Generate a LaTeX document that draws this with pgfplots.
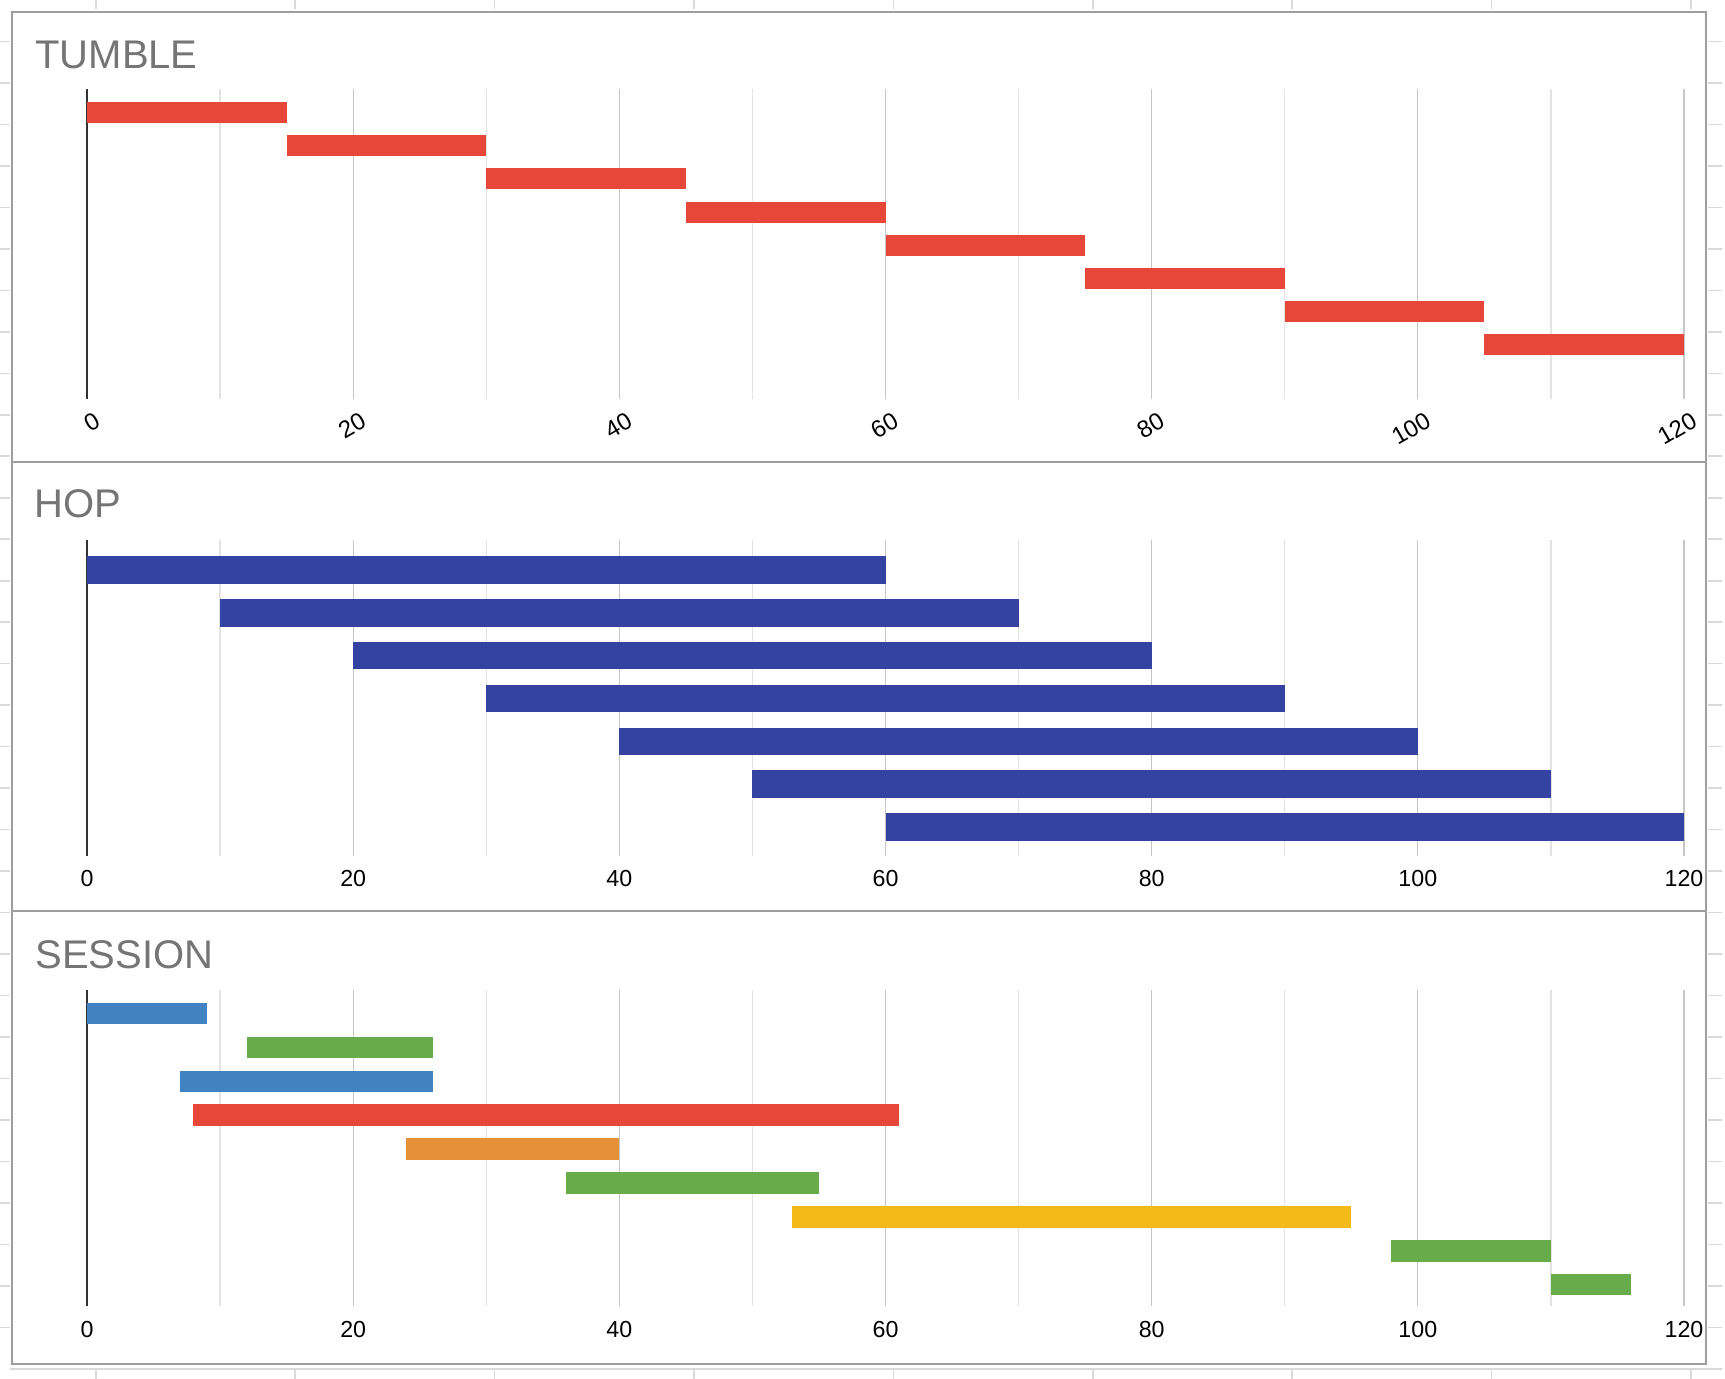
\documentclass[border=0pt]{standalone}
\usepackage{pgfplots}
\pgfplotsset{compat=1.18}
\usepackage{fontspec}
\setmainfont{Liberation Sans}
\definecolor{tred}{HTML}{E64738}
\definecolor{hblue}{HTML}{3443A1}
\definecolor{sblue}{HTML}{4182C3}
\definecolor{sgreen}{HTML}{68AB4A}
\definecolor{sorange}{HTML}{E69138}
\definecolor{syellow}{HTML}{F4BB18}
\definecolor{ttl}{HTML}{757575}
\definecolor{framec}{HTML}{9E9E9E}
\definecolor{cell}{HTML}{DADADA}

\pgfplotsset{
  gantt/.style={
    scale only axis,
    width=798.5pt,
    xmin=0, xmax=120,
    xtick={0,20,...,120},
    minor xtick={10,30,...,110},
    ytick=\empty,
    xmajorgrids, xminorgrids,
    major grid style={draw=black!22, line width=0.6pt},
    minor grid style={draw=black!11, line width=0.6pt},
    major tick length=0pt, minor tick length=0pt,
    axis lines*=left,
    axis line style={-},
    x axis line style={draw=none},
    y axis line style={draw=black!80, line width=1pt},
    /pgf/number format/assume math mode=true,
    xticklabel style={font=\fontsize{11.6}{13}\selectfont, inner sep=0pt},
    clip=false,
    anchor=north west,
  },
}

\begin{document}
\begin{tikzpicture}
\path[use as bounding box] (0,0) rectangle (862.5pt,-689.5pt);
\begin{scope}[x=0.5pt,y=-0.5pt]
  % spreadsheet cell borders outside the chart
  \foreach \k in {1,...,32} {
    \draw[cell, line width=0.8pt] (0,{41.48*\k}) -- (10,{41.48*\k});
    \draw[cell, line width=0.8pt] (1708,{41.48*\k}) -- (1722,{41.48*\k});
  }
  \foreach \k in {0,...,8} {
    \draw[cell, line width=0.8pt] ({95.7+199.4*\k},0) -- ({95.7+199.4*\k},9);
    \draw[cell, line width=0.8pt] ({95.7+199.4*\k},1369) -- ({95.7+199.4*\k},1379);
  }
  \draw[cell, line width=0.8pt] (10,1369) -- (1722,1369);
  % chart frame and dividers
  \draw[framec, line width=1pt] (12,12) rectangle (1706,1364);
  \draw[framec, line width=1pt] (12,462) -- (1706,462);
  \draw[framec, line width=1pt] (12,911) -- (1706,911);
  % titles
  \node[anchor=base west, inner sep=0pt, text=ttl, font=\fontsize{20}{24}\selectfont] at (35,68.3) {TUMBLE};
  \node[anchor=base west, inner sep=0pt, text=ttl, font=\fontsize{20}{24}\selectfont] at (34,517.7) {HOP};
  \node[anchor=base west, inner sep=0pt, text=ttl, font=\fontsize{20}{24}\selectfont] at (35,968.3) {SESSION};
\end{scope}

% TUMBLE
\begin{axis}[gantt, at={(43.5pt,-44.65pt)}, height=155pt, ymin=-9.66, ymax=-0.29,
  xticklabel style={xshift=5.4pt, yshift=-9.6pt, rotate=30, anchor=east, font=\fontsize{12}{13}\selectfont}]
  \addplot[tred, line width=10.5pt] coordinates {(0,-1) (15,-1)};
  \addplot[tred, line width=10.5pt] coordinates {(15,-2) (30,-2)};
  \addplot[tred, line width=10.5pt] coordinates {(30,-3) (45,-3)};
  \addplot[tred, line width=10.5pt] coordinates {(45,-4) (60,-4)};
  \addplot[tred, line width=10.5pt] coordinates {(60,-5) (75,-5)};
  \addplot[tred, line width=10.5pt] coordinates {(75,-6) (90,-6)};
  \addplot[tred, line width=10.5pt] coordinates {(90,-7) (105,-7)};
  \addplot[tred, line width=10.5pt] coordinates {(105,-8) (120,-8)};
\end{axis}

% HOP
\begin{axis}[gantt, at={(43.5pt,-270pt)}, height=158pt, ymin=-7.67, ymax=-0.305,
  xticklabel style={anchor=center, yshift=-11.15pt}]
  \addplot[hblue, line width=13.85pt] coordinates {(0,-1) (60,-1)};
  \addplot[hblue, line width=13.85pt] coordinates {(10,-2) (70,-2)};
  \addplot[hblue, line width=13.85pt] coordinates {(20,-3) (80,-3)};
  \addplot[hblue, line width=13.85pt] coordinates {(30,-4) (90,-4)};
  \addplot[hblue, line width=13.85pt] coordinates {(40,-5) (100,-5)};
  \addplot[hblue, line width=13.85pt] coordinates {(50,-6) (110,-6)};
  \addplot[hblue, line width=13.85pt] coordinates {(60,-7) (120,-7)};
\end{axis}

% SESSION
\begin{axis}[gantt, at={(43.5pt,-495pt)}, height=158pt, ymin=-9.625, ymax=-0.313,
  xticklabel style={anchor=center, yshift=-11.6pt}]
  \addplot[sblue,   line width=10.65pt] coordinates {(0,-1) (9,-1)};
  \addplot[sgreen,  line width=10.65pt] coordinates {(12,-2) (26,-2)};
  \addplot[sblue,   line width=10.65pt] coordinates {(7,-3) (26,-3)};
  \addplot[tred,    line width=10.65pt] coordinates {(8,-4) (61,-4)};
  \addplot[sorange, line width=10.65pt] coordinates {(24,-5) (40,-5)};
  \addplot[sgreen,  line width=10.65pt] coordinates {(36,-6) (55,-6)};
  \addplot[syellow, line width=10.65pt] coordinates {(53,-7) (95,-7)};
  \addplot[sgreen,  line width=10.65pt] coordinates {(98,-8) (110,-8)};
  \addplot[sgreen,  line width=10.65pt] coordinates {(110,-9) (116,-9)};
\end{axis}
\end{tikzpicture}
\end{document}
